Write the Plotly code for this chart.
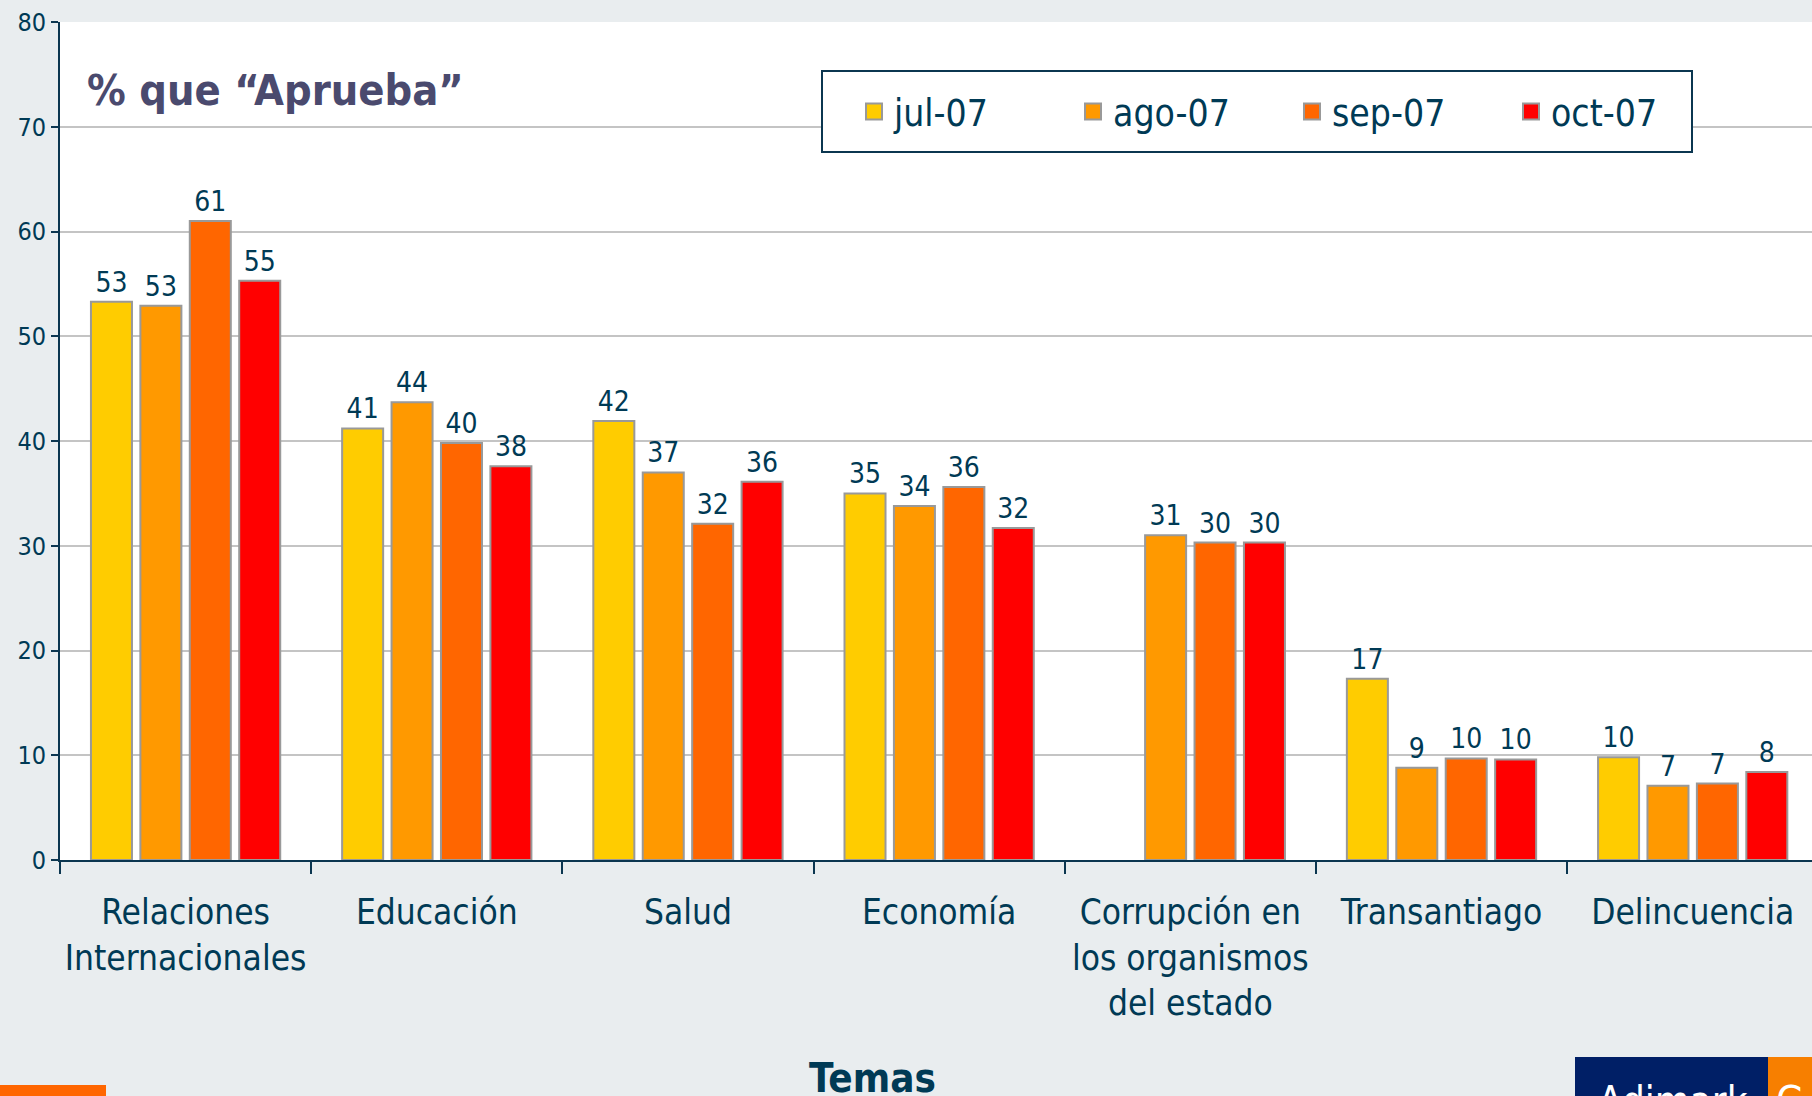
import plotly.graph_objects as go

categories = ["Relaciones<br>Internacionales", "Educación", "Salud", "Economía",
              "Corrupción en<br>los organismos<br>del estado", "Transantiago", "Delincuencia"]
series_names = ["jul-07", "ago-07", "sep-07", "oct-07"]
jul_07 = [53.3, 41.2, 41.9, 35.0, None, 17.3, 9.8]
ago_07 = [52.9, 43.7, 37.0, 33.8, 31.0, 8.8, 7.1]
sep_07 = [61.0, 39.8, 32.1, 35.6, 30.3, 9.7, 7.3]
oct_07 = [55.3, 37.6, 36.1, 31.7, 30.3, 9.6, 8.4]
y_ticks = [0, 10, 20, 30, 40, 50, 60, 70, 80]

series_values = [jul_07, ago_07, sep_07, oct_07]
colors = ["#FFCC00", "#FF9900", "#FF6600", "#FF0000"]

FONT = "DejaVu Sans Condensed, DejaVu Sans, sans-serif"
TXT = "#003A55"
AX = "#0B3650"
BG = "#E9EDEF"

W, H = 1812, 1096
L, R, T, B = 60, 0, 22, 236
PW, PH = W - L - R, H - T - B

def px_x(px):
    return (px - L) / PW

def px_y(py):
    return (H - B - py) / PH

fig = go.Figure()
for name, vals, col in zip(series_names, series_values, colors):
    fig.add_trace(go.Bar(
        x=categories, y=vals, name=name, showlegend=False,
        marker=dict(color=col, line=dict(color="#999999", width=2)),
        text=[None if v is None else f"{round(v)}" for v in vals],
        textposition="outside", cliponaxis=False,
        textfont=dict(family=FONT, size=28, color=TXT),
        hoverinfo="x+y",
    ))
# legend entries
for name, col in zip(series_names, colors):
    fig.add_trace(go.Scatter(
        x=[None], y=[None], mode="markers", name=name,
        marker=dict(symbol="square", size=20, color=col, line=dict(color="#999999", width=2)),
    ))

fig.update_layout(
    width=W, height=H,
    margin=dict(l=L, r=R, t=T, b=B, pad=0),
    paper_bgcolor=BG, plot_bgcolor="white",
    barmode="group", bargap=0.213, bargroupgap=0.17,
    font=dict(family=FONT, color=TXT),
    legend=dict(
        orientation="h", x=px_x(854), y=px_y(112), xanchor="left", yanchor="middle",
        bgcolor="rgba(0,0,0,0)", borderwidth=0,
        font=dict(family=FONT, size=37, color=TXT),
        entrywidth=174, entrywidthmode="pixels", itemsizing="trace",
    ),
    xaxis=dict(
        type="category", range=[-0.5, 6.475], tickson="boundaries",
        ticks="outside", ticklen=12, tickwidth=2, tickcolor=AX,
        showline=True, linecolor=AX, linewidth=2,
        tickfont=dict(family=FONT, size=35, color=TXT),
        ticklabelstandoff=20, tickangle=0,
        showgrid=False,
    ),
    yaxis=dict(
        range=[0, 80], tickvals=y_ticks, ticks="outside", ticklen=7, tickwidth=2,
        tickcolor=AX, showline=True, linecolor=AX, linewidth=2,
        gridcolor="#C4C4C4", gridwidth=2,
        tickfont=dict(family=FONT, size=25, color=TXT),
        zeroline=False,
    ),
    annotations=[
        dict(text="<b>% que “Aprueba”</b>", xref="paper", yref="paper",
             x=px_x(85), y=px_y(90), xanchor="left", yanchor="middle", showarrow=False,
             font=dict(family=FONT, size=43, color="#4A4A6E")),
        dict(text="<b>Temas</b>", xref="paper", yref="paper",
             x=px_x(872), y=px_y(1078), xanchor="center", yanchor="middle", showarrow=False,
             font=dict(family=FONT, size=40, color=TXT)),
        dict(text="Adimark", xref="paper", yref="paper",
             x=px_x(1596), y=px_y(1076), xanchor="left", yanchor="top", showarrow=False,
             font=dict(family=FONT, size=40, color="white")),
        dict(text="G", xref="paper", yref="paper",
             x=px_x(1774), y=px_y(1076), xanchor="left", yanchor="top", showarrow=False,
             font=dict(family=FONT, size=40, color="white")),
    ],
    shapes=[
        dict(type="rect", xref="paper", yref="paper", x0=px_x(822), x1=px_x(1692),
             y0=px_y(152), y1=px_y(71), fillcolor="white", line=dict(color=AX, width=2),
             layer="above"),
        dict(type="rect", xref="paper", yref="paper", x0=px_x(0), x1=px_x(106),
             y0=px_y(1100), y1=px_y(1085), fillcolor="#FF6600", line=dict(width=0), layer="above"),
        dict(type="rect", xref="paper", yref="paper", x0=px_x(1575), x1=px_x(1768),
             y0=px_y(1100), y1=px_y(1057), fillcolor="#001F66", line=dict(width=0), layer="below"),
        dict(type="rect", xref="paper", yref="paper", x0=px_x(1768), x1=px_x(1815),
             y0=px_y(1100), y1=px_y(1057), fillcolor="#F77F00", line=dict(width=0), layer="below"),
    ],
)

fig.write_html(
    "out.html",
    post_script=(
        "document.body.style.margin='0';document.body.style.overflow='hidden';"
        "var s=document.createElement('style');"
        "s.textContent='.modebar-container{display:none !important;}';"
        "document.head.appendChild(s);"
    ),
)
